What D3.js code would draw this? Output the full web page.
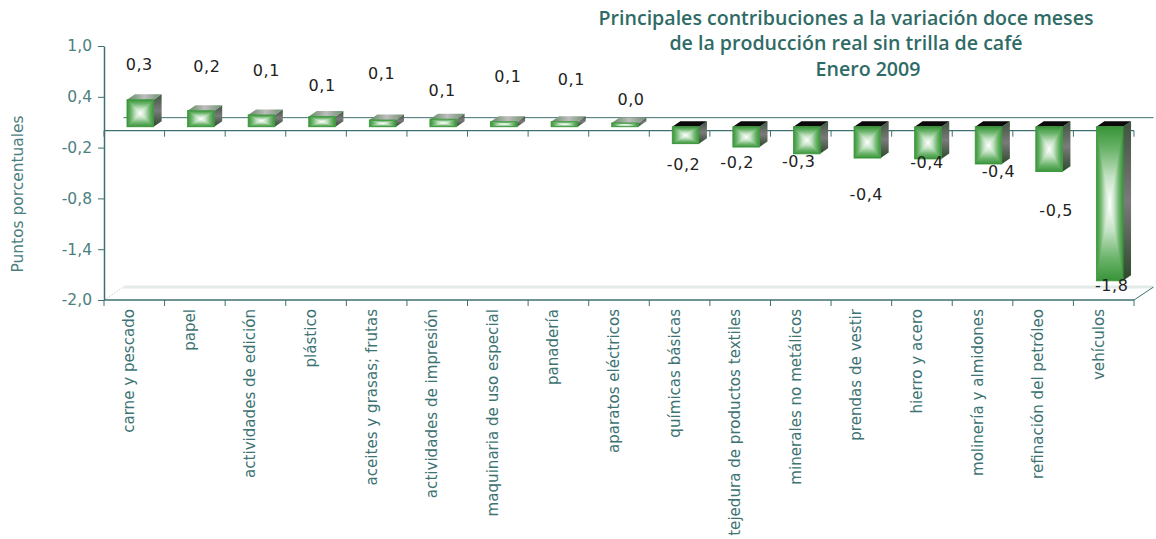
<!DOCTYPE html>
<html><head><meta charset="utf-8">
<script src="https://cdn.jsdelivr.net/npm/d3@7"></script>
<style>html,body{margin:0;padding:0;background:#fff;}svg{display:block;}</style>
</head><body>
<svg id="chart" width="1156" height="539"></svg>
<script>
// ---------------- data ----------------
const categories = ["carne y pescado","papel","actividades de edición","plástico","aceites y grasas; frutas",
  "actividades de impresión","maquinaria de uso especial","panadería","aparatos eléctricos","químicas básicas",
  "tejedura de productos textiles","minerales no metálicos","prendas de vestir","hierro y acero",
  "molinería y almidones","refinación del petróleo","vehículos"];
const values = [0.32,0.19,0.14,0.12,0.08,0.09,0.06,0.06,0.045,-0.20,-0.24,-0.32,-0.37,-0.38,-0.44,-0.53,-1.82];
const yTicks = [1.0,0.4,-0.2,-0.8,-1.4,-2.0];
const titleLines = ["Principales contribuciones a la variación doce meses","de la producción real sin trilla de café","Enero 2009"];
const yTitle = "Puntos porcentuales";
// label nudges (layout only, px relative to bar end / bar centre)
const labelDx = [-1,6,5,0,-1,-1,4,7,6,-2,-9,-8,-1,-1,10,7,2];
const labelDy = [-35,-44,-44,-31,-46,-29,-45,-42,-23,21,15,8,36,4,7,39,5];

// ---------------- layout ----------------
const svg = d3.select("#chart");
const FONT = "'DejaVu Sans', sans-serif";
const teal = "#3f7070", tickTxt = "#4b8080", catTxt = "#3d7373", titleCol = "#2f6b66";
const x = d3.scaleBand().domain(categories).range([104,1134]).paddingInner(0).paddingOuter(0);
const y = d3.scaleLinear().domain([-2,1]).range([300,46]);
const D = {dx:19.5, dy:-13};     // full depth of the 3-D box
const off = {dx:6, dy:-3.9};     // bar front-plane offset
const bd = {dx:8, dy:-5.5};      // bar depth
const bw = x.bandwidth()*0.44;
const fmt = v => (Math.round(v*10)/10).toFixed(1).replace(".",",");

// gradients
const defs = svg.append("defs");
function lin(id, x2, y2, stops){
  const g = defs.append("linearGradient").attr("id",id).attr("x1",0).attr("y1",0).attr("x2",x2).attr("y2",y2);
  stops.forEach(s=>g.append("stop").attr("offset",s[0]).attr("stop-color",s[1]));
}
const gs = [[0,"#389438"],[0.3,"#6cb46c"],[0.65,"#c4e2c4"],[1,"#ffffff"]];
lin("gH",1,0,[...gs.map(s=>[s[0]/2,s[1]]), ...gs.slice().reverse().map(s=>[1-s[0]/2,s[1]])]);
lin("gTop",0,1,gs);
lin("gBot",0,1,gs.slice().reverse().map(s=>[1-s[0],s[1]]));
lin("gSide",0,1,[[0,"#3e553e"],[0.5,"#7a7a7a"],[1,"#2c4a2c"]]);
lin("gTopFace",1,0,[[0,"#5f8a5f"],[0.5,"#bdbdbd"],[1,"#6f8f6f"]]);

// ---------------- back / floor ----------------
const x0r = x.range()[0], x1r = x.range()[1];
const line = (pts, stroke, w, dash) => svg.append("path").attr("d", d3.line()(pts))
  .attr("fill","none").attr("stroke",stroke).attr("stroke-width",w).attr("stroke-dasharray",dash||null);
line([[x0r+D.dx, y(-2)+D.dy],[x1r+D.dx, y(-2)+D.dy]], "#e2eaea", 3);
line([[x0r, y(-2)],[x0r+D.dx, y(-2)+D.dy]], "#c5d2d2", 1, "1.5,1.5");
line([[x1r, y(-2)],[x1r+D.dx, y(-2)+D.dy]], teal, 1);
line([[x0r+D.dx, y(0)+D.dy],[x1r+D.dx, y(0)+D.dy]], teal, 1);

// front zero axis with ticks at boundaries
const bounds = d3.range(categories.length+1).map(i=>x0r+i*x.step());
line([[x0r,y(0)],[x1r,y(0)]], teal, 1.2);
bounds.forEach(b=>line([[b,y(0)],[b,y(0)+6]], teal, 1));

// bottom axis
line([[x0r,y(-2)],[x1r,y(-2)]], teal, 1.5);
bounds.forEach(b=>line([[b,y(-2)],[b,y(-2)+6]], teal, 1));

// y axis
const ya = svg.append("g").attr("transform",`translate(${x0r},0)`)
  .call(d3.axisLeft(y).tickValues(yTicks).tickSize(6).tickSizeOuter(0).tickPadding(6).tickFormat(fmt));
ya.select(".domain").attr("stroke",teal).attr("stroke-width",1.5);
ya.selectAll(".tick line").attr("stroke",teal);
ya.selectAll(".tick text").attr("fill",tickTxt).style("font-family",FONT).style("font-size","15.5px");

// ---------------- bars ----------------
const bars = svg.append("g").selectAll("g").data(categories).join("g");
bars.each(function(c,i){
  const g = d3.select(this), v = values[i];
  const xc = x(c)+x.bandwidth()/2+off.dx, xa = xc-bw/2, xb = xc+bw/2;
  const yT = y(Math.max(v,0))+off.dy, yB = y(Math.min(v,0))+off.dy, ym=(yT+yB)/2;
  const poly = (pts,fill)=>g.append("path").attr("d",d3.line()(pts)+"Z").attr("fill",fill);
  poly([[xb,yT],[xb+bd.dx,yT+bd.dy],[xb+bd.dx,yB+bd.dy],[xb,yB]],"url(#gSide)");
  poly([[xa,yT],[xb,yT],[xb+bd.dx,yT+bd.dy],[xa+bd.dx,yT+bd.dy]], v>=0?"url(#gTopFace)":"#0a0a0a");
  g.append("rect").attr("x",xa).attr("y",yT).attr("width",bw).attr("height",yB-yT).attr("fill","url(#gH)");
  poly([[xa,yT],[xb,yT],[xc,ym]],"url(#gTop)");
  poly([[xa,yB],[xb,yB],[xc,ym]],"url(#gBot)");
  g.append("rect").attr("x",xa).attr("y",yT).attr("width",bw).attr("height",yB-yT)
    .attr("fill","none").attr("stroke","#3a963a").attr("stroke-width",0.8);
  g.append("text").attr("x",xc+labelDx[i]).attr("y",(v>=0?yT:yB)+labelDy[i])
    .attr("text-anchor","middle").attr("dominant-baseline","central")
    .style("font-family",FONT).style("font-size","16px").style("letter-spacing","0.6px")
    .attr("fill","#222").text(fmt(v));
});

// ---------------- category labels ----------------
const cl = svg.append("g").selectAll("text").data(categories).join("text")
  .attr("transform",d=>`translate(${x(d)+x.bandwidth()/2-5},309) rotate(-90)`)
  .attr("text-anchor","end").attr("dominant-baseline","central")
  .style("font-family",FONT).style("font-size","15px").attr("fill",catTxt).text(d=>d);
(function(){
  const n = cl.nodes()[10]; const w = n.getComputedTextLength();
  cl.style("font-size",(15*227/w)+"px");
})();

// ---------------- titles ----------------
const titleX = [846,846,868];
const tt = svg.append("g").selectAll("text").data(titleLines).join("text")
  .attr("x",(d,i)=>titleX[i]).attr("y",(d,i)=>17+i*25.5).attr("text-anchor","middle").attr("dominant-baseline","central")
  .style("font-family","'Open Sans', sans-serif").style("font-weight","600").style("font-size","17px")
  .attr("fill",titleCol).text(d=>d);
(function(){
  const w = tt.nodes()[0].getComputedTextLength(); tt.style("font-size",(17*495/w)+"px");
})();

const yt = svg.append("text").attr("transform","translate(18,194) rotate(-90)")
  .attr("text-anchor","middle").attr("dominant-baseline","central")
  .style("font-family",FONT).style("font-size","15px").attr("fill",tickTxt).text(yTitle);
(function(){ const w = yt.node().getComputedTextLength(); yt.style("font-size",(15*157/w)+"px"); })();
</script>
</body></html>
